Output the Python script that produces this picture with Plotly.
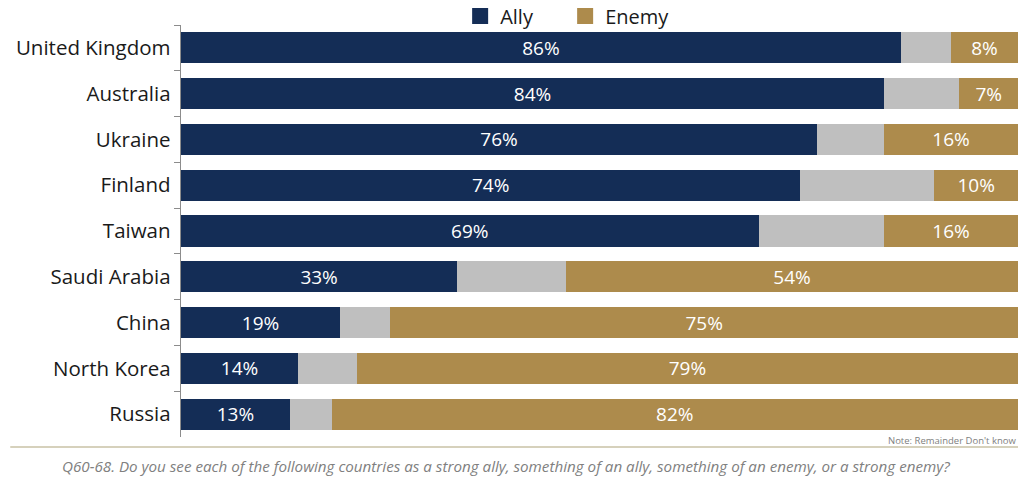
import plotly.graph_objects as go

countries = ['United Kingdom', 'Australia', 'Ukraine', 'Finland', 'Taiwan',
             'Saudi Arabia', 'China', 'North Korea', 'Russia']
ally = [86, 84, 76, 74, 69, 33, 19, 14, 13]
dont_know = [6, 9, 8, 16, 15, 13, 6, 7, 5]
enemy = [8, 7, 16, 10, 16, 54, 75, 79, 82]

NAVY = '#142D56'
GOLD = '#AD8B4C'
GRAY = '#BFBFBF'
FONT = 'Open Sans'

fig = go.Figure()

# Ally segment
fig.add_trace(go.Bar(
    y=countries, x=ally, name='Ally', orientation='h',
    marker=dict(color=NAVY, line=dict(width=0)),
    text=[f'{v}%' for v in ally], textposition='inside',
    insidetextanchor='middle', constraintext='none',
    textfont=dict(color='white', size=19, family=FONT),
    showlegend=False,
))

# Don't know segment (no label, not in legend)
fig.add_trace(go.Bar(
    y=countries, x=dont_know, name="Don't know", orientation='h',
    marker=dict(color=GRAY, line=dict(width=0)),
    showlegend=False, hoverinfo='skip',
))

# Enemy segment
fig.add_trace(go.Bar(
    y=countries, x=enemy, name='Enemy', orientation='h',
    marker=dict(color=GOLD, line=dict(width=0)),
    text=[f'{v}%' for v in enemy], textposition='inside',
    insidetextanchor='middle', constraintext='none',
    textfont=dict(color='white', size=19, family=FONT),
    showlegend=False,
))

# legend-only entries so the swatches come out as bigger squares
for name, color in [('Ally', NAVY), ('Enemy', GOLD)]:
    fig.add_trace(go.Scatter(
        x=[None], y=[None], mode='markers', name=name,
        marker=dict(symbol='square', size=18, color=color),
        hoverinfo='skip',
    ))

# page body has an 8px margin, so the figure is a bit smaller than the window
fig.update_layout(
    barmode='stack',
    bargap=0.32,
    width=1010, height=471,
    margin=dict(l=173, r=0, t=17, b=42, autoexpand=False),
    plot_bgcolor='white',
    paper_bgcolor='white',
    font=dict(family=FONT, color='#1a1a1a'),
    legend=dict(
        orientation='h', x=0.3335, xanchor='left',
        y=1.022, yanchor='middle', yref='paper',
        bgcolor='rgba(0,0,0,0)',
        font=dict(size=20, family=FONT),
        entrywidth=60, entrywidthmode='pixels',
        traceorder='normal',
    ),
    xaxis=dict(range=[0, 100], visible=False, fixedrange=True),
    yaxis=dict(
        autorange='reversed', automargin=False,
        showline=True, linecolor='#8c8c8c', linewidth=1,
        ticks='outside', tickson='boundaries', ticklen=6, tickcolor='#8c8c8c',
        tickfont=dict(size=20.5, family=FONT, color='#1a1a1a'),
        ticksuffix=' ', showgrid=False,
    ),
    shapes=[dict(
        type='line', xref='paper', yref='paper',
        x0=-0.204, x1=1.0, y0=-0.024, y1=-0.024,
        line=dict(color='#C9C2A6', width=1.5),
    )],
    annotations=[
        dict(
            text="Note: Remainder Don't know", xref='paper', yref='paper',
            x=1.0, y=-0.008, xanchor='right', yanchor='middle', showarrow=False,
            font=dict(size=9.5, color='#808080', family=FONT),
        ),
        dict(
            text='<i>Q60-68. Do you see each of the following countries as a strong ally, '
                 'something of an ally, something of an enemy, or a strong enemy?</i>',
            xref='paper', yref='paper', x=0.388, y=-0.07,
            xanchor='center', yanchor='middle', showarrow=False,
            font=dict(size=15.2, color='#808080', family=FONT),
        ),
    ],
)

fig.write_html('out.html')
